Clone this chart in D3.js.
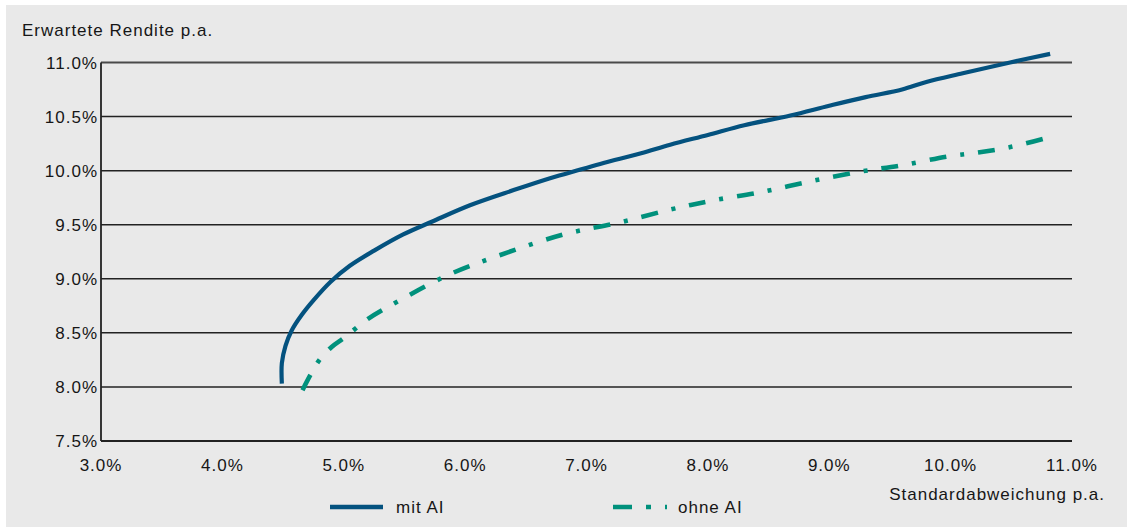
<!DOCTYPE html>
<html><head><meta charset="utf-8">
<script src="https://cdn.jsdelivr.net/npm/d3@7"></script>
<style>
html,body{margin:0;padding:0;background:#fff;}
svg text{font-family:"Liberation Sans",Arial,sans-serif;fill:#161616;}
</style></head>
<body>
<svg id="chart" width="1127" height="527"></svg>
<script>
// Data (x = Standardabweichung %, y = erwartete Rendite %)
const mitAI_sd  = [4.49,4.49,4.52,4.57,4.65,4.75,4.89,5.05,5.25,5.49,5.73,6.04,6.40,6.70,6.95,7.14,7.45,7.69,8.00,8.30,8.68,9.00,9.30,9.60,9.80,10.10,10.49,10.82];
const mitAI_ret = [8.03,8.22,8.38,8.52,8.66,8.80,8.97,9.12,9.26,9.41,9.53,9.68,9.82,9.93,10.01,10.07,10.16,10.24,10.33,10.42,10.51,10.60,10.68,10.75,10.82,10.90,11.00,11.08];
const ohneAI_sd  = [4.66,4.73,4.80,4.90,5.01,5.20,5.46,5.87,6.29,6.81,7.27,7.69,8.02,8.43,8.84,9.25,9.60,9.97,10.24,10.50,10.78];
const ohneAI_ret = [7.97,8.12,8.25,8.37,8.46,8.63,8.80,9.04,9.22,9.41,9.52,9.64,9.72,9.80,9.90,9.99,10.05,10.13,10.17,10.22,10.30];
const xTicks = [3,4,5,6,7,8,9,10,11];
const yTicks = [7.5,8.0,8.5,9.0,9.5,10.0,10.5,11.0];
const seriesNames = ["mit AI","ohne AI"];
const yTitle = "Erwartete Rendite p.a.";
const xTitle = "Standardabweichung p.a.";

const blue = "#04527f", teal = "#00917c";
const svg = d3.select("#chart");
svg.append("rect").attr("x",6).attr("y",5).attr("width",1121).attr("height",522).attr("fill","#e9e9e9");

const x = d3.scaleLinear().domain([3,11]).range([101,1072]);
const y = d3.scaleLinear().domain([7.5,11]).range([441,62.5]);

const fmt = d => d.toFixed(1) + "%";
const ls = "1px";

// gridlines
svg.append("g").selectAll("line").data(yTicks.filter(d=>d>7.5)).join("line")
  .attr("x1",x(3)).attr("x2",x(11)).attr("y1",d=>y(d)).attr("y2",d=>y(d))
  .attr("stroke",d=>d===11?"#4a4a4a":"#222").attr("stroke-width",d=>d===11?2:1.5);
// axes lines
svg.append("line").attr("x1",x(3)).attr("x2",x(3)).attr("y1",y(11)).attr("y2",y(7.5)).attr("stroke","#222").attr("stroke-width",1.8);
svg.append("line").attr("x1",x(3)).attr("x2",x(11)).attr("y1",y(7.5)).attr("y2",y(7.5)).attr("stroke","#222").attr("stroke-width",1.8);

// tick labels
svg.append("g").selectAll("text").data(yTicks).join("text")
  .attr("x",98).attr("y",d=>y(d)+6).attr("text-anchor","end")
  .style("font-size","17px").style("letter-spacing",ls).text(fmt);
svg.append("g").selectAll("text").data(xTicks).join("text")
  .attr("x",d=>x(d)).attr("y",471).attr("text-anchor","middle")
  .style("font-size","17px").style("letter-spacing",ls).text(fmt);

svg.append("text").attr("x",22).attr("y",36).style("font-size","17px").style("letter-spacing",ls).text(yTitle);
svg.append("text").attr("x",1105).attr("y",500).attr("text-anchor","end").style("font-size","17px").style("letter-spacing",ls).text(xTitle);

const line2 = d3.line().x(d=>x(d[0])).y(d=>y(d[1])).curve(d3.curveCatmullRom);
svg.append("path").datum(mitAI_sd.map((v,i)=>[v,mitAI_ret[i]]))
  .attr("d",line2).attr("fill","none").attr("stroke",blue).attr("stroke-width",4.2);
svg.append("path").datum(ohneAI_sd.map((v,i)=>[v,ohneAI_ret[i]]))
  .attr("d",line2).attr("fill","none").attr("stroke",teal).attr("stroke-width",4.6)
  .attr("stroke-dasharray","17,14,4,14");

// legend
svg.append("line").attr("x1",330).attr("x2",383).attr("y1",507).attr("y2",507).attr("stroke",blue).attr("stroke-width",4.5);
svg.append("text").attr("x",396).attr("y",513).style("font-size","17px").style("letter-spacing",ls).text(seriesNames[0]);
svg.append("line").attr("x1",613).attr("x2",667).attr("y1",507).attr("y2",507).attr("stroke",teal).attr("stroke-width",4.5)
  .attr("stroke-dasharray","19,14,5,14");
svg.append("text").attr("x",678).attr("y",513).style("font-size","17px").style("letter-spacing",ls).text(seriesNames[1]);
</script>
</body></html>
